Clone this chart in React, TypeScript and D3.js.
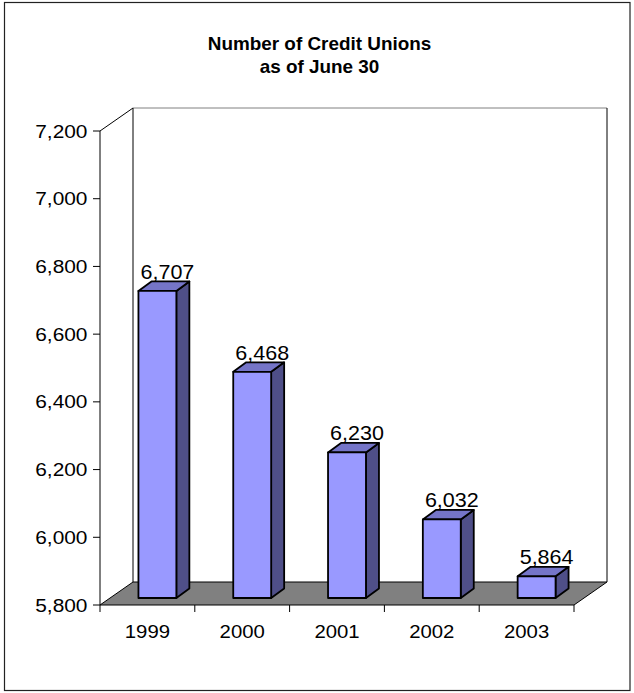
import React from "react";
import * as d3 from "d3";

const categories = ["1999", "2000", "2001", "2002", "2003"];
const values = [6707, 6468, 6230, 6032, 5864];
const yTicks = [5800, 6000, 6200, 6400, 6600, 6800, 7000, 7200];
const titleLines = ["Number of Credit Unions", "as of June 30"];

const W = 634;
const H = 693;
const plot = { left: 100, right: 574, top: 131, bottom: 605 };
const depth = { dx: 33, dy: -23 };
const barFront = { dx: 10, dy: -7 };
const barDepth = { dx: 13, dy: -9.5 };
const FONT = "Arial, 'Liberation Sans', Helvetica, sans-serif";

export default function App() {
  const x = d3.scaleBand<string>().domain(categories).range([plot.left, plot.right]).padding(0);
  const y = d3.scaleLinear().domain([5800, 7200]).range([plot.bottom, plot.top]);
  const bw = x.bandwidth() * 0.4;
  const fmt = d3.format(",");
  const pts = (arr: [number, number][]) => arr.map((p) => p.join(",")).join(" ");

  const L = plot.left, R = plot.right, T = plot.top, B = plot.bottom;
  const bL = L + depth.dx, bR = R + depth.dx, bT = T + depth.dy, bB = B + depth.dy;

  return (
    <svg width={W} height={H} style={{ position: "absolute", left: 0, top: 0, background: "#fff" }}>
      <rect x={4.5} y={2.5} width={625.5} height={688} fill="#fff" stroke="#222" strokeWidth={1.2} />
      {titleLines.map((t, i) => (
        <text key={t} transform={`translate(319.5,${50 + i * 22.7}) scale(1.08,1)`} textAnchor="middle"
          fontFamily={FONT} fontWeight="bold" fontSize={17.5} fill="#000">{t}</text>
      ))}
      {/* back wall */}
      <polygon points={pts([[bL, bT], [bR, bT], [bR, bB], [bL, bB]])} fill="#fff" stroke="none" />
      <line x1={bL} y1={bT} x2={bR} y2={bT} stroke="#808080" strokeWidth={1} />
      <line x1={bR} y1={bT} x2={bR} y2={bB} stroke="#000" strokeWidth={1} />
      {/* side wall */}
      <polygon points={pts([[L, T], [bL, bT], [bL, bB], [L, B]])} fill="#fff" stroke="none" />
      <line x1={L} y1={T} x2={bL} y2={bT} stroke="#000" strokeWidth={1} />
      <line x1={bL} y1={bT} x2={bL} y2={bB} stroke="#000" strokeWidth={1} />
      {/* floor */}
      <polygon points={pts([[L, B], [R, B], [bR, bB], [bL, bB]])} fill="#808080" stroke="#000" strokeWidth={1} />
      {/* y axis */}
      <line x1={L} y1={T} x2={L} y2={B} stroke="#000" strokeWidth={1} />
      {yTicks.map((t) => (
        <g key={t}>
          <line x1={L - 7} y1={y(t)} x2={L} y2={y(t)} stroke="#000" strokeWidth={1} />
          <text transform={`translate(87.5,${y(t) + 6.5}) scale(1.13,1)`} textAnchor="end"
            fontFamily={FONT} fontSize={18.5} fill="#000">{fmt(t)}</text>
        </g>
      ))}
      {/* x axis ticks */}
      {categories.map((c) => (
        <line key={"t" + c} x1={x(c)!} y1={B} x2={x(c)!} y2={B + 7} stroke="#000" strokeWidth={1} />
      ))}
      <line x1={R} y1={B} x2={R} y2={B + 7} stroke="#000" strokeWidth={1} />
      {categories.map((c) => (
        <text key={"l" + c} transform={`translate(${x(c)! + x.bandwidth() / 2},637.5) scale(1.13,1)`} textAnchor="middle"
          fontFamily={FONT} fontSize={18} fill="#000">{c}</text>
      ))}
      {/* bars */}
      {categories.map((c, i) => {
        const x0 = x(c)! + (x.bandwidth() - bw) / 2 + barFront.dx;
        const x1 = x0 + bw;
        const yb = B + barFront.dy;
        const yt = y(values[i]) + barFront.dy;
        const ddx = barDepth.dx, ddy = barDepth.dy;
        return (
          <g key={"b" + c} stroke="#000" strokeWidth={1.8} strokeLinejoin="round">
            <polygon points={pts([[x1, yt], [x1 + ddx, yt + ddy], [x1 + ddx, yb + ddy], [x1, yb]])} fill="#4f4f88" />
            <polygon points={pts([[x0, yt], [x0 + ddx, yt + ddy], [x1 + ddx, yt + ddy], [x1, yt]])} fill="#7575c8" />
            <rect x={x0} y={yt} width={bw} height={yb - yt} fill="#9999ff" />
            <text transform={`translate(${(x0 + x1) / 2 + 10},${yt - 12}) scale(1.05,1)`} textAnchor="middle"
              fontFamily={FONT} fontSize={20.5} fill="#000" stroke="none">{fmt(values[i])}</text>
          </g>
        );
      })}
    </svg>
  );
}
